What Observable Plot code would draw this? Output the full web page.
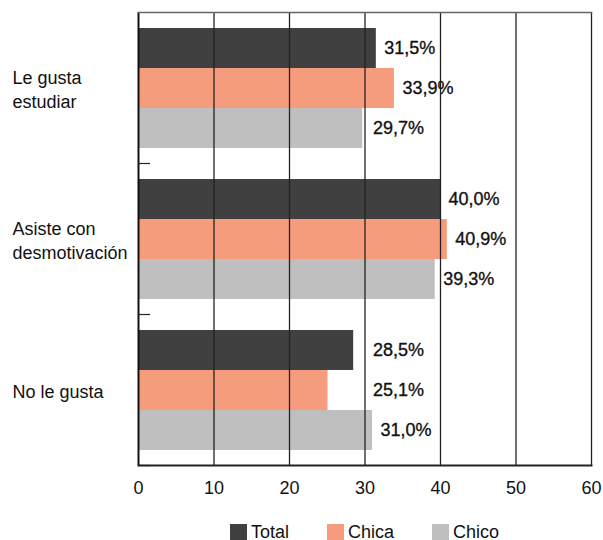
<!DOCTYPE html>
<html>
<head>
<meta charset="utf-8">
<script src="https://cdn.jsdelivr.net/npm/d3@7"></script>
<script src="https://cdn.jsdelivr.net/npm/@observablehq/plot@0.6"></script>
<style>
  body { margin: 0; background: #fff; font-family: "Liberation Sans", Arial, sans-serif; }
  #legend { display: flex; justify-content: center; gap: 38px; padding-left: 138px; padding-right: 12px; margin-top: 12px; font-size: 18px; color: #111; height: 20px; align-items: center; }
  #legend .item { display: flex; align-items: center; gap: 4px; }
  #legend .sw { width: 17px; height: 17px; display: inline-block; }
</style>
</head>
<body>
<div id="chart"></div>
<script>
const categories = ["Le gusta estudiar", "Asiste con desmotivación", "No le gusta"];
const categoryLabels = ["Le gusta\nestudiar", "Asiste con\ndesmotivación", "No le gusta"];
const series = ["Total", "Chica", "Chico"];
const totalValues = [31.5, 40.0, 28.5];
const chicaValues = [33.9, 40.9, 25.1];
const chicoValues = [29.7, 39.3, 31.0];
const colors = ["#404040", "#f59c7c", "#bfbfbf"];
const xTicks = [0, 10, 20, 30, 40, 50, 60];

const valuesBySeries = [totalValues, chicaValues, chicoValues];
const data = [];
categories.forEach((c, ci) => {
  series.forEach((s, si) => {
    data.push({cat: c, series: s, value: valuesBySeries[si][ci]});
  });
});
const fmt = v => v.toFixed(1).replace(".", ",") + "%";

const chart = Plot.plot({
  width: 603,
  height: 510,
  marginTop: 11,
  marginBottom: 45,
  marginLeft: 138,
  marginRight: 12,
  style: {fontFamily: "Liberation Sans, Arial, sans-serif", fontSize: "18px", color: "#111", background: "#fff"},
  x: {domain: [0, 60], ticks: xTicks, label: null},
  y: {domain: series, paddingInner: 0, paddingOuter: 0.37, axis: null},
  fy: {domain: categories, padding: 0, axis: null},
  color: {domain: series, range: colors},
  marks: [
    Plot.barX(data, {x: "value", y: "series", fy: "cat", fill: "series"}),
    Plot.ruleX(xTicks.slice(1), {stroke: "#222", strokeWidth: 1.3}),
    Plot.ruleX([0], {stroke: "#111", strokeWidth: 2}),
    Plot.frame({anchor: "top", facet: "super", stroke: "#666", strokeWidth: 1.5}),
    Plot.frame({anchor: "bottom", facet: "super", stroke: "#222", strokeWidth: 2}),
    Plot.frame({anchor: "bottom", insetRight: 442, stroke: "#222", strokeWidth: 1.2}),
    Plot.text(data, {
      x: d => Math.max(d.value, 30), y: "series", fy: "cat",
      text: d => fmt(d.value), dx: 8, textAnchor: "start",
      fill: "#111", stroke: "#111", strokeWidth: 0.35, fontSize: 18
    }),
    Plot.text(categories, {
      fy: d => d, text: (d, i) => categoryLabels[i],
      frameAnchor: "left", dx: -126, textAnchor: "start",
      lineHeight: 1.38, fill: "#111", fontSize: 18
    }),
    Plot.axisX({ticks: xTicks, tickSize: 0, tickPadding: 16, fontSize: 18, fill: "#111", label: null})
  ]
});
document.getElementById("chart").appendChild(chart);

const legend = document.createElement("div");
legend.id = "legend";
series.forEach((s, i) => {
  const item = document.createElement("span");
  item.className = "item";
  const sw = document.createElement("span");
  sw.className = "sw";
  sw.style.background = colors[i];
  const t = document.createElement("span");
  t.textContent = s;
  item.appendChild(sw);
  item.appendChild(t);
  legend.appendChild(item);
});
document.body.appendChild(legend);
</script>
</body>
</html>
